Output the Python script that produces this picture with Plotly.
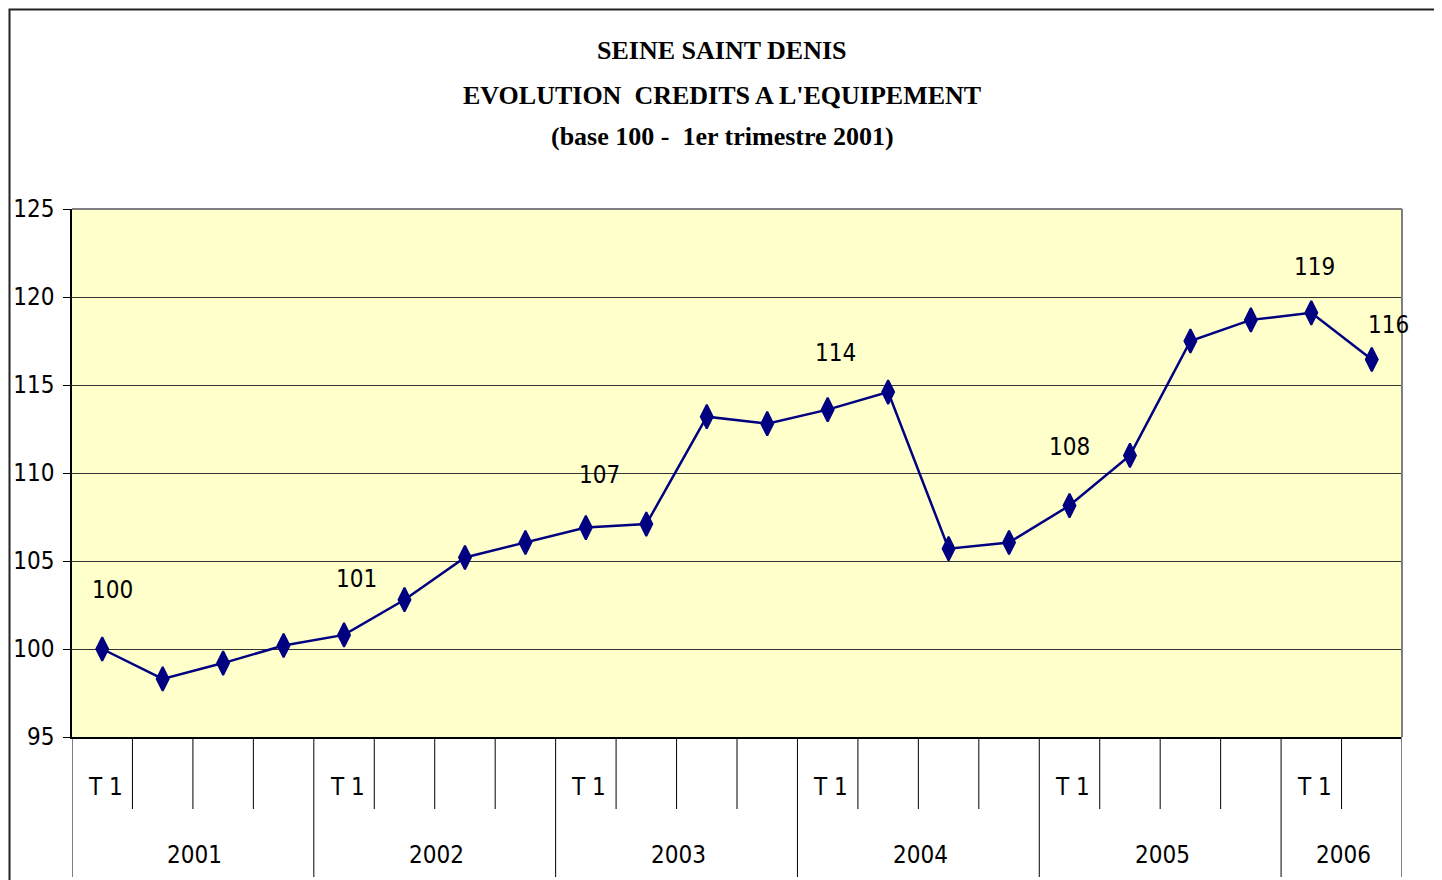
import plotly.graph_objects as go

# ---- data ----
years = ["2001", "2002", "2003", "2004", "2005", "2006"]
quarters_per_year = [4, 4, 4, 4, 4, 2]
quarter_labels = ["T 1", "", "", ""]
values = [100.0, 98.3, 99.2, 100.2, 100.8, 102.8, 105.2, 106.05, 106.9, 107.1,
          113.2, 112.8, 113.6, 114.6, 105.7, 106.05, 108.15, 111.0, 117.5, 118.7,
          119.1, 116.45]
label_points = [0, 4, 8, 12, 16, 20, 21]
title_lines = ["SEINE SAINT DENIS",
               "EVOLUTION&nbsp;&nbsp;CREDITS A L'EQUIPEMENT",
               "(base 100 -&nbsp;&nbsp;1er trimestre 2001)"]

# ---- styles ----
label_shift = [(10, 59), (12, 56), (14, 53), (8, 57), (0, 59), (3, 46), (17, 34)]
NARROW = "Liberation Sans Narrow, DejaVu Sans Condensed, Arial Narrow, sans-serif"
SERIF = "Liberation Serif, DejaVu Serif, serif"
NAVY = "#000080"
FS = 24

# page has an 8px body margin: figure starts at page pixel (8, 8)
OFF = 8
L, T = 72 - OFF, 209 - OFF          # plot-area origin inside the figure
PX_W, PX_H = 1330.0, 528.0
def py(page_y):
    return (737 - page_y) / PX_H
def px(page_x):
    return (page_x - 72) / PX_W

x = list(range(len(values)))

fig = go.Figure()
fig.add_trace(go.Scatter(
    x=x, y=values, mode="lines+markers",
    line=dict(color=NAVY, width=2.5),
    marker=dict(symbol="diamond-tall", size=17, color=NAVY,
                line=dict(color=NAVY, width=2)),
    hoverinfo="skip", showlegend=False,
))

shapes = []
annotations = []

# data labels
for (i, (dx, dy)) in zip(label_points, label_shift):
    annotations.append(dict(
        x=x[i], y=values[i], xref="x", yref="y", text=str(int(round(values[i]))),
        showarrow=False, xshift=dx, yshift=dy,
        font=dict(family=NARROW, size=FS, color="#000000"),
    ))

# category dividers & labels
start = 0
for yr, n in zip(years, quarters_per_year):
    shapes.append(dict(type="line", xref="x", yref="paper",
                       x0=start - 0.5, x1=start - 0.5, y0=0, y1=py(877),
                       line=dict(color="#000000", width=1)))
    for q in range(n):
        idx = start + q
        if q > 0:
            shapes.append(dict(type="line", xref="x", yref="paper",
                               x0=idx - 0.5, x1=idx - 0.5, y0=0, y1=py(809),
                               line=dict(color="#000000", width=1)))
        if quarter_labels[q]:
            annotations.append(dict(
                x=idx, y=py(787), xref="x", yref="paper", text=quarter_labels[q],
                showarrow=False, xshift=3, yanchor="middle",
                font=dict(family=NARROW, size=FS, color="#000000")))
    annotations.append(dict(
        x=start + (n - 1) / 2.0, y=py(855), xref="x", yref="paper", text=yr,
        showarrow=False, yanchor="middle", xshift=2,
        font=dict(family=NARROW, size=FS, color="#000000")))
    start += n
shapes.append(dict(type="line", xref="x", yref="paper",
                   x0=start - 0.5, x1=start - 0.5, y0=0, y1=py(877),
                   line=dict(color="#808080", width=2)))

# plot-area border (top/right gray)
shapes.append(dict(type="line", xref="paper", yref="paper", x0=0, x1=1, y0=1, y1=1,
                   line=dict(color="#808080", width=2)))
shapes.append(dict(type="line", xref="paper", yref="paper", x0=1, x1=1, y0=0, y1=1,
                   line=dict(color="#808080", width=2)))

# outer frame (as close to the page corner as the figure allows)
shapes.append(dict(type="rect", xref="paper", yref="paper",
                   x0=px(OFF + 1.5), x1=px(1435), y0=py(905), y1=py(OFF + 1.5),
                   line=dict(color="#222222", width=2)))

# title lines
for line_txt, yc in zip(title_lines, [51, 95, 137]):
    annotations.append(dict(
        x=px(722), y=py(yc), xref="paper", yref="paper", text="<b>" + line_txt + "</b>",
        showarrow=False, yanchor="middle",
        font=dict(family=SERIF, size=26, color="#000000")))

W, H = 1442 - OFF, 880 - OFF
fig.update_layout(
    width=W, height=H,
    margin=dict(l=L, r=W - L - int(PX_W), t=T, b=H - T - int(PX_H), autoexpand=False),
    paper_bgcolor="#FFFFFF",
    plot_bgcolor="#FFFFCC",
    shapes=shapes,
    annotations=annotations,
    showlegend=False,
    xaxis=dict(range=[-0.5, len(values) - 0.5], showgrid=False, zeroline=False,
               showticklabels=False, ticks="", showline=True,
               linecolor="#000000", linewidth=1.5),
    yaxis=dict(range=[95, 125], dtick=5, tick0=95, showgrid=True,
               gridcolor="#333333", gridwidth=1, zeroline=False,
               ticks="outside", ticklen=7, tickcolor="#000000",
               ticklabelstandoff=4,
               showline=True, linecolor="#000000", linewidth=1.5,
               tickfont=dict(family=NARROW, size=FS, color="#000000")),
)

fig.write_html("out.html")
